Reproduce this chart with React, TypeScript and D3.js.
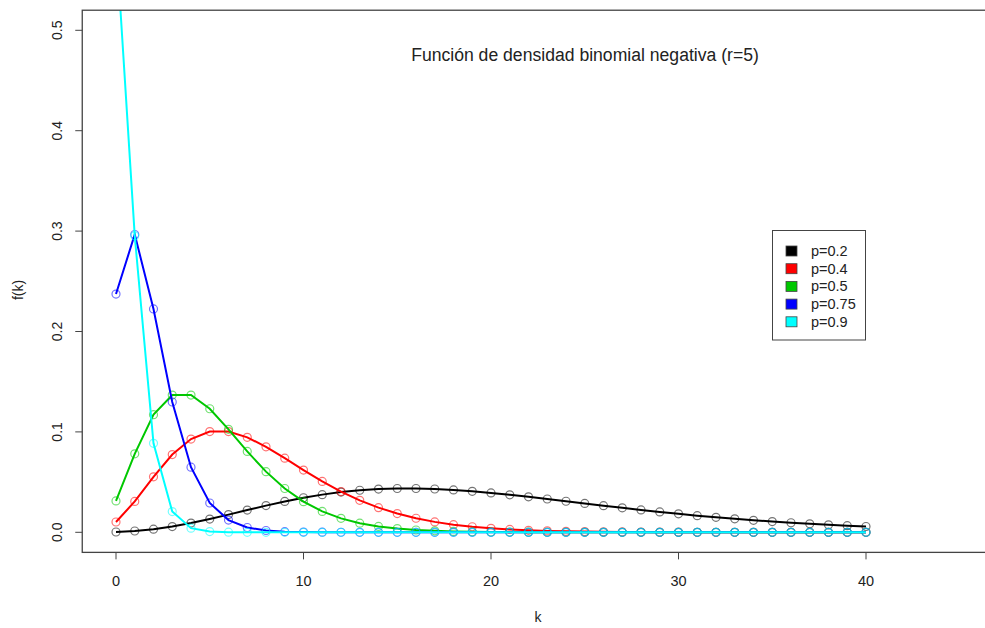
import React from "react";
import * as d3 from "d3";

const W = 985;
const H = 628;

const kValues: number[] = Array.from({ length: 41 }, (_, i) => i);

const pLabels = ["p=0.2", "p=0.4", "p=0.5", "p=0.75", "p=0.9"];
const seriesColors = ["#000000", "#ff0000", "#00c800", "#0000ff", "#00ffff"];

const fP02 = [
  0.00032, 0.00128, 0.003072, 0.0057344, 0.00917504, 0.013212, 0.017616, 0.022146, 0.026575, 0.030709,
  0.034394, 0.037521, 0.040022, 0.041869, 0.043066, 0.04364, 0.04364, 0.043126, 0.042168, 0.040836,
  0.039204, 0.037336, 0.0353, 0.033151, 0.030941, 0.028713, 0.026505, 0.024345, 0.022258, 0.020263,
  0.018371, 0.016594, 0.014934, 0.013396, 0.011977, 0.010677, 0.0094905, 0.0084132, 0.007439, 0.0065616,
  0.0057742,
];
const fP04 = [
  0.01024, 0.03072, 0.055296, 0.0774144, 0.09289728, 0.100329, 0.100329, 0.094596, 0.085136, 0.073785,
  0.06198, 0.050711, 0.040569, 0.031831, 0.024555, 0.018662, 0.013996, 0.010374, 0.0076074, 0.0055254,
  0.0039783, 0.0028416, 0.002015, 0.0014192, 0.00099346, 0.00069145, 0.0004787, 0.00032977, 0.00022613, 0.00015439,
  0.00010499, 0.00007112, 0.000048006, 0.000032295, 0.000021657, 0.000014479, 0.0000096527, 0.0000064177, 0.000004256, 0.0000028155,
  0.0000018582,
];
const fP05 = [
  0.03125, 0.078125, 0.1171875, 0.13671875, 0.13671875, 0.123046875, 0.1025390625, 0.0805664, 0.0604248, 0.0436401,
  0.0305481, 0.0208282, 0.0138855, 0.009079, 0.0058365, 0.0036964, 0.0023103, 0.0014269, 0.00087202, 0.0005278,
  0.00031668, 0.0001885, 0.00011139, 0.000065381, 0.000038139, 0.000022121, 0.000012762, 0.0000073264, 0.0000041865, 0.000002382,
  0.0000013498, 7.6198e-7, 4.2861e-7, 2.4028e-7, 1.3427e-7, 7.481e-8, 4.1561e-8, 2.3027e-8, 1.2725e-8, 7.0152e-9,
  3.8584e-9,
];
const fP075 = [
  0.2373047, 0.2966309, 0.2224731, 0.129776, 0.064888, 0.0291996, 0.0121665, 0.0047797, 0.0017924, 0.00064725,
  0.00022654, 0.000077229, 0.000025743, 0.000008416, 0.0000027051, 8.5663e-7, 2.677e-7, 8.2672e-8, 2.5261e-8, 7.6448e-9,
  2.2934e-9, 0, 0, 0, 0, 0, 0, 0, 0, 0,
  0, 0, 0, 0, 0, 0, 0, 0, 0, 0,
  0,
];
const fP09 = [
  0.59049, 0.295245, 0.0885735, 0.0206672, 0.00413343, 0.000744018, 0.000124003, 0.0000194862, 0.00000292293, 4.222e-7,
  5.9108e-8, 0, 0, 0, 0, 0, 0, 0, 0, 0,
  0, 0, 0, 0, 0, 0, 0, 0, 0, 0,
  0, 0, 0, 0, 0, 0, 0, 0, 0, 0,
  0,
];

const allSeries = [fP02, fP04, fP05, fP075, fP09];

const xTicks = [0, 10, 20, 30, 40];
const yTicks = [0, 0.1, 0.2, 0.3, 0.4, 0.5];
const yTickLabels = ["0.0", "0.1", "0.2", "0.3", "0.4", "0.5"];

const titleText = "Función de densidad binomial negativa (r=5)";

export default function App() {
  // R-style limits: xlim c(0,45), ylim c(0,0.5), extended 4%
  const x = d3.scaleLinear().domain([0, 40]).range([116, 866]);
  const y = d3.scaleLinear().domain([0, 0.5]).range([532.3, 30.3]);
  const left = x(-1.8);
  const right = x(46.8);
  const top = y(0.52);
  const bottom = y(-0.02);

  const line = d3
    .line<number>()
    .x((_, i) => x(kValues[i]))
    .y((d) => y(d));

  const font = "'Liberation Sans', Arial, Helvetica, sans-serif";

  return (
    <svg
      width={W}
      height={H}
      style={{ position: "absolute", left: 0, top: 0, background: "#fff" }}
      fontFamily={font}
    >
      <defs>
        <clipPath id="plotclip">
          <rect x={left} y={top} width={right - left} height={bottom - top} />
        </clipPath>
      </defs>
      <rect x={0} y={0} width={W} height={H} fill="#fff" />

      <g clipPath="url(#plotclip)">
        {allSeries.map((s, si) => (
          <g key={si}>
            <path d={line(s) || ""} fill="none" stroke={seriesColors[si]} strokeWidth={2} />
            {s.map((v, i) => (
              <circle
                key={i}
                cx={x(kValues[i])}
                cy={y(v)}
                r={4}
                fill="none"
                stroke={seriesColors[si]}
                strokeOpacity={0.55}
                strokeWidth={1.2}
              />
            ))}
          </g>
        ))}
      </g>

      {/* box */}
      <rect x={left} y={top} width={right - left} height={bottom - top} fill="none" stroke="#444" strokeWidth={1.3} />

      {/* y axis ticks */}
      {yTicks.map((t, i) => (
        <g key={t}>
          <line x1={left} x2={left - 7} y1={y(t)} y2={y(t)} stroke="#444" strokeWidth={1} />
          <text
            x={57}
            y={y(t)}
            transform={`rotate(-90, 57, ${y(t)})`}
            textAnchor="middle"
            dominantBaseline="central"
            fontSize={14}
            fill="#222"
          >
            {yTickLabels[i]}
          </text>
        </g>
      ))}

      {/* x axis ticks */}
      {xTicks.map((t) => (
        <g key={t}>
          <line x1={x(t)} x2={x(t)} y1={bottom} y2={bottom + 7} stroke="#444" strokeWidth={1} />
          <text x={x(t)} y={586} textAnchor="middle" fontSize={14.5} fill="#222">
            {t}
          </text>
        </g>
      ))}

      {/* axis labels */}
      <text x={538} y={622} textAnchor="middle" fontSize={14} fill="#222">
        k
      </text>
      <text
        x={18}
        y={290}
        transform="rotate(-90, 18, 290)"
        textAnchor="middle"
        dominantBaseline="central"
        fontSize={14}
        fill="#222"
      >
        f(k)
      </text>

      {/* title */}
      <text x={585} y={61} textAnchor="middle" fontSize={17.6} fill="#222">
        {titleText}
      </text>

      {/* legend */}
      <rect x={772.5} y={230.5} width={93} height={109.5} fill="#fff" stroke="#444" strokeWidth={1} />
      {pLabels.map((lab, i) => {
        const cy = 251 + i * 17.7;
        return (
          <g key={lab}>
            <rect x={786} y={cy - 5} width={11} height={10} fill={seriesColors[i]} stroke="#444" strokeWidth={0.8} />
            <text x={811} y={cy} dominantBaseline="central" fontSize={14.5} fill="#222">
              {lab}
            </text>
          </g>
        );
      })}
    </svg>
  );
}
